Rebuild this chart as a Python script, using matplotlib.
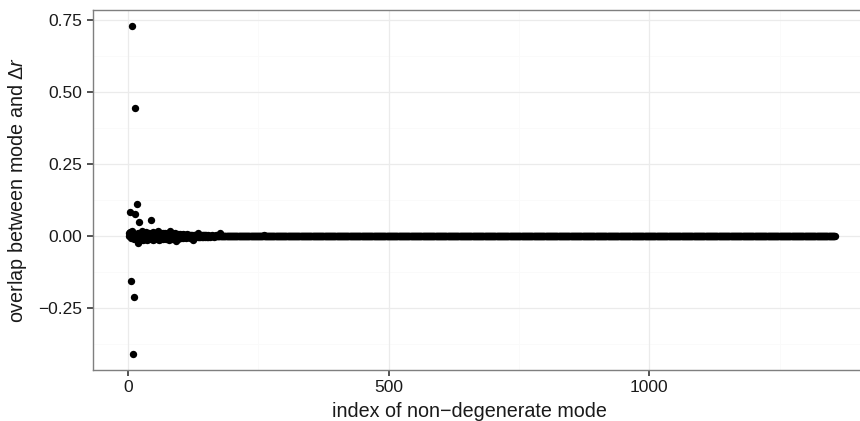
import matplotlib
matplotlib.use("Agg")
import matplotlib.pyplot as plt
import numpy as np

plt.rcParams['font.family'] = ['Liberation Sans', 'DejaVu Sans']
plt.rcParams['mathtext.fontset'] = 'custom'
plt.rcParams['mathtext.rm'] = 'Liberation Sans'
plt.rcParams['mathtext.it'] = 'Liberation Sans:italic'

# overlap values, mode index 1..N
head_values = [
    0.000, 0.012, 0.084, 0.015, -0.008, -0.155, 0.018, 0.729, 0.006, -0.409,
    -0.211, -0.010, 0.444, 0.077, 0.004, -0.012, 0.112, 0.008, -0.024, 0.010,
    0.050, -0.006, 0.011, -0.013, 0.003, 0.016, -0.009, 0.007, -0.014, 0.012,
    0.002, -0.011, 0.009, -0.005, 0.013, -0.015, 0.006, 0.000, -0.008, 0.011,
    -0.012, 0.004, 0.008, -0.010, 0.055, 0.003, -0.013, 0.014, -0.004, 0.007,
    -0.011, 0.009, -0.006, 0.012, -0.009, 0.002, 0.016, -0.012, 0.005, -0.014,
    0.008, -0.003, 0.010, -0.010, 0.004, -0.007, 0.011, -0.012, 0.006, -0.002,
    0.009, -0.011, 0.003, 0.007, -0.008, 0.012, -0.005, 0.002, -0.013, 0.008,
    0.017, -0.006, 0.004, -0.010, 0.009, -0.003, 0.006, -0.012, 0.005, -0.007,
    0.010, -0.004, -0.019, 0.003, 0.007, -0.009, 0.002, -0.006, 0.008, -0.003,
    0.005, -0.008, 0.004, -0.002, 0.006, -0.007, 0.003, 0.005, -0.004, 0.002,
    -0.006, 0.004, -0.003, 0.006, -0.005, 0.002, 0.004, -0.006, 0.003, -0.002,
    0.005, -0.004, 0.002, -0.003, -0.015, 0.003, -0.002, 0.004, -0.003, 0.002,
    -0.004, 0.003, 0.001, -0.003, 0.010, -0.002, 0.003, -0.004, 0.002, -0.001,
    0.003, -0.003, 0.002, -0.002, 0.003, -0.001, 0.002, -0.003, 0.001, 0.002,
    -0.002, 0.001, -0.002, 0.002, -0.001, 0.001, -0.002, 0.001, 0.000, -0.001,
]
mid_values = [
    0.002, -0.001, 0.001, -0.002, 0.001, 0.000, 0.001, -0.001, 0.002, 0.000,
    -0.001, 0.001, 0.000, -0.001, 0.001, 0.000, 0.010, 0.000, -0.001, 0.001,
    0.000, 0.001, -0.001, 0.000, 0.001, 0.000, -0.001, 0.000, 0.001, 0.000,
    0.000, -0.001, 0.000, 0.001, 0.000, 0.000, -0.001, 0.000, 0.000, 0.001,
    0.000, 0.000, 0.000, -0.001, 0.000, 0.000, 0.001, 0.000, 0.000, 0.000,
    0.000, 0.000, 0.000, 0.000, 0.000, 0.000, 0.000, 0.000, 0.000, 0.000,
    0.000, 0.000, 0.000, 0.000, 0.000, 0.000, 0.000, 0.000, 0.000, 0.000,
    0.000, 0.000, 0.000, 0.000, 0.000, 0.000, 0.000, 0.000, 0.000, 0.000,
    0.000, 0.000, 0.000, 0.000, 0.000, 0.000, 0.000, 0.000, 0.000, 0.000,
    0.000, 0.000, 0.000, 0.000, 0.000, 0.000, 0.000, 0.000, 0.000, 0.005,
    0.000, 0.000, 0.000, 0.000, 0.000, 0.000, 0.000, 0.000, 0.000, 0.000,
    0.000, 0.000, 0.000, 0.000, 0.000, 0.000, 0.000, 0.000, 0.000, 0.000,
    0.000, 0.000, 0.000, 0.000, 0.000, 0.000, 0.000, 0.000, 0.000, 0.000,
    0.000, 0.000, 0.000, 0.000, 0.000, 0.000, 0.000, 0.000, 0.000, 0.000,
]
n_modes = 1356
tail_values = [0.0] * (n_modes - len(head_values) - len(mid_values))
overlap = head_values + mid_values + tail_values
mode_index = list(range(1, n_modes + 1))

x_ticks = [0, 500, 1000]
x_tick_labels = ["0", "500", "1000"]
y_ticks = [-0.25, 0.0, 0.25, 0.5, 0.75]
y_tick_labels = ["\u22120.25", "0.00", "0.25", "0.50", "0.75"]

W, H = 860, 421
fig = plt.figure(figsize=(W / 100, H / 100), dpi=100)
left, right, top, bottom = 93, 870, 10, 370
ax = fig.add_axes([left / W, (H - bottom) / H, (right - left) / W, (bottom - top) / H])

ax.set_xlim(-67.2, 1423.6)
ax.set_ylim(-0.466, 0.786)

# grid
for v in [250, 750, 1250]:
    ax.axvline(v, color="#fafafa", lw=0.6, zorder=0)
for v in [-0.375, -0.125, 0.125, 0.375, 0.625]:
    ax.axhline(v, color="#fafafa", lw=0.6, zorder=0)
for v in x_ticks:
    ax.axvline(v, color="#ebebeb", lw=0.9, zorder=0)
for v in y_ticks:
    ax.axhline(v, color="#ebebeb", lw=0.9, zorder=0)

ax.plot(mode_index, overlap, linestyle="none", marker="o", markersize=5.3,
        color="black", markeredgewidth=0, zorder=3)

ax.set_xticks(x_ticks)
ax.set_xticklabels(x_tick_labels)
ax.set_yticks(y_ticks)
ax.set_yticklabels(y_tick_labels)
ax.tick_params(axis="both", which="major", length=4.5, width=1.2, color="#333333",
               labelsize=12.5, labelcolor="#1a1a1a", pad=3)

for s in ax.spines.values():
    s.set_color("#7f7f7f")
    s.set_linewidth(1.0)

fig.text(18 / W, 1 - 190 / H, r"overlap between mode and $\Delta r$", rotation=90,
         ha="center", va="center", fontsize=14.2, color="#1a1a1a")
fig.text(469 / W, 1 - 417 / H, "index of non\u2212degenerate mode", ha="center",
         va="baseline", fontsize=14.2, color="#1a1a1a")

fig.savefig("out.png", dpi=100)
